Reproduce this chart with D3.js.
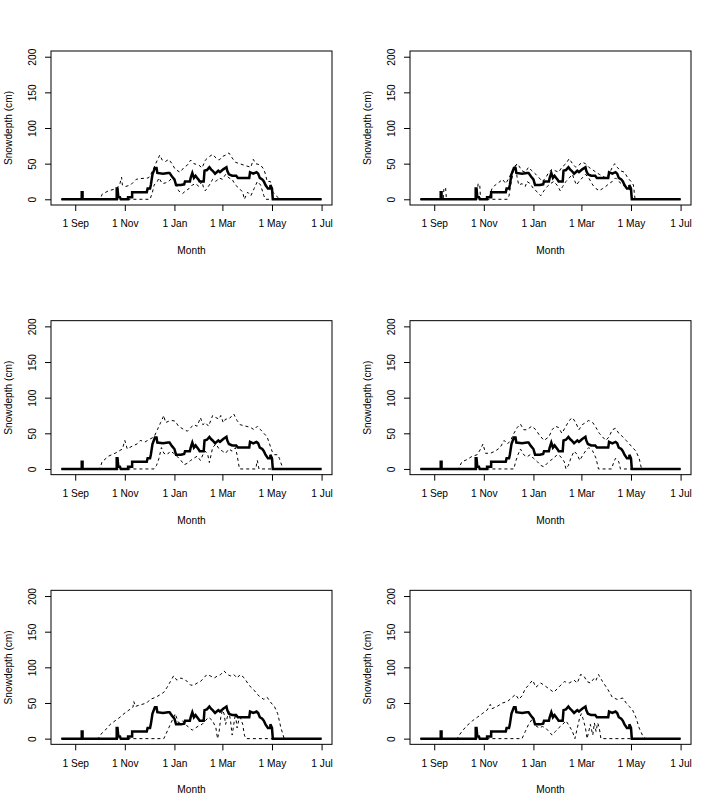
<!DOCTYPE html>
<html>
<head>
<meta charset="utf-8">
<script src="https://cdn.jsdelivr.net/npm/d3@7"></script>
<style>
body { margin: 0; background: #fff; }
text { font-family: "Liberation Sans", Arial, sans-serif; font-size: 10.2px; fill: #000; }
</style>
</head>
<body>
<div id="chart"></div>
<script>
// day offsets are days after 1 Sep, values are snow depth in cm
var observed = [[-17,0],[8,0],[8,10],[9,10],[9,0],[51,0],[51,15],[52,15],[53,3],[55,3],[56,0],[65,0],[65,3],[70,3],[70,10],[88,10],[89,15],[92,15],[93,20],[95,35],[98,44],[100,44],[101,37],[108,36],[114,37],[116,37],[119,32],[122,28],[124,20],[130,20],[134,21],[135,25],[141,25],[142,30],[144,37],[146,30],[148,33],[150,30],[152,27],[153,25],[158,25],[159,40],[162,41],[165,45],[167,42],[169,40],[172,36],[174,38],[176,40],[178,38],[180,40],[182,42],[186,45],[187,40],[189,35],[193,33],[198,33],[200,30],[214,30],[215,38],[219,36],[223,38],[225,36],[227,30],[230,28],[232,25],[234,20],[237,15],[240,15],[240,20],[242,15],[243,0],[303,0]];

var upper1 = [[-17,0],[31,0],[33,7],[41,12],[51,15],[55,22],[57,31],[58,20],[62,18],[68,20],[75,28],[80,29],[90,30],[93,35],[97,45],[101,55],[104,62],[107,55],[111,53],[115,56],[119,50],[123,42],[129,38],[134,45],[138,48],[142,55],[146,50],[152,48],[156,44],[160,55],[165,60],[169,63],[173,58],[177,55],[181,60],[185,62],[189,65],[193,58],[197,52],[202,50],[210,47],[216,45],[219,56],[222,50],[228,48],[232,42],[234,35],[236,25],[240,25],[243,10],[247,5],[252,0],[303,0]];
var lower1 = [[-17,0],[92,0],[95,10],[97,20],[101,25],[103,30],[107,22],[111,23],[115,25],[119,30],[123,25],[127,12],[132,8],[136,12],[140,15],[144,20],[148,22],[152,18],[156,25],[158,15],[160,12],[165,20],[169,28],[173,25],[177,30],[181,28],[185,35],[189,30],[193,28],[197,20],[202,15],[206,10],[208,0],[212,10],[216,5],[220,15],[224,25],[228,20],[232,5],[234,0],[303,0]];

var upper2 = [[-17,0],[11,0],[12,16],[14,16],[15,0],[52,0],[54,22],[56,20],[57,0],[67,0],[71,15],[75,20],[81,25],[84,28],[88,22],[92,30],[96,40],[99,45],[102,50],[104,47],[108,40],[112,38],[116,45],[120,40],[125,35],[129,30],[133,25],[137,30],[141,38],[145,42],[149,40],[153,38],[157,45],[162,50],[166,57],[170,50],[174,45],[178,48],[182,52],[186,50],[190,45],[194,42],[199,38],[203,35],[211,30],[215,35],[219,45],[222,50],[225,45],[229,40],[234,38],[238,30],[242,25],[245,20],[247,0],[303,0]];
var lower2 = [[-17,0],[90,0],[92,5],[94,20],[97,38],[100,48],[102,30],[104,20],[108,22],[112,18],[114,25],[118,22],[122,15],[127,10],[131,5],[135,12],[139,18],[143,22],[147,25],[151,20],[155,12],[158,18],[162,25],[166,30],[170,35],[172,28],[175,20],[178,25],[182,30],[186,35],[190,30],[195,20],[199,15],[203,12],[207,15],[211,18],[215,22],[219,25],[223,30],[227,25],[232,20],[236,18],[240,15],[242,10],[243,0],[303,0]];

var upper3 = [[-17,0],[29,0],[31,3],[33,10],[41,18],[49,22],[58,28],[61,40],[64,28],[70,32],[76,35],[80,40],[86,38],[92,42],[97,45],[101,55],[105,65],[109,75],[111,65],[115,67],[119,68],[123,67],[127,60],[134,55],[138,53],[142,58],[146,62],[150,60],[152,66],[154,72],[157,62],[160,65],[164,60],[169,75],[173,72],[177,70],[179,75],[182,65],[185,70],[189,70],[193,75],[195,77],[199,68],[203,62],[210,60],[216,58],[220,55],[224,60],[228,55],[232,50],[236,45],[239,35],[242,25],[245,20],[249,20],[251,15],[254,5],[256,0],[303,0]];
var lower3 = [[-17,0],[97,0],[100,5],[103,15],[106,30],[109,22],[113,20],[117,25],[121,22],[125,18],[130,12],[134,6],[138,8],[142,12],[146,15],[150,18],[154,12],[157,20],[160,25],[163,20],[165,9],[169,30],[173,35],[177,28],[181,25],[185,22],[189,28],[193,25],[197,30],[199,20],[202,0],[222,0],[224,12],[226,0],[303,0]];

var upper4 = [[-17,0],[29,0],[31,3],[34,10],[40,13],[47,18],[53,20],[57,28],[60,35],[63,22],[69,22],[75,25],[81,30],[86,40],[90,35],[94,40],[98,50],[102,58],[106,63],[110,55],[114,55],[120,60],[125,55],[129,48],[135,40],[141,45],[145,55],[149,60],[153,58],[157,50],[162,60],[166,68],[170,72],[174,65],[178,55],[182,62],[186,65],[190,68],[195,65],[199,58],[203,50],[207,45],[211,40],[215,45],[219,55],[223,57],[227,50],[232,45],[236,40],[240,35],[244,30],[248,25],[252,15],[255,0],[303,0]];
var lower4 = [[-17,0],[98,0],[100,10],[103,20],[106,28],[110,20],[114,17],[118,20],[122,15],[127,10],[131,5],[135,3],[139,8],[143,12],[147,15],[151,20],[155,18],[160,10],[162,0],[165,5],[168,15],[172,25],[176,20],[179,12],[182,18],[186,25],[190,30],[195,25],[199,15],[202,0],[218,0],[221,10],[223,15],[227,10],[229,0],[303,0]];

var upper5 = [[-17,0],[29,0],[29,2],[33,8],[37,12],[43,20],[49,25],[55,30],[60,35],[66,40],[71,44],[72,52],[74,45],[76,46],[82,48],[88,50],[92,55],[99,58],[105,62],[109,65],[113,72],[117,80],[121,88],[125,82],[130,85],[134,83],[138,80],[142,75],[146,75],[150,78],[154,80],[158,85],[162,90],[166,88],[171,85],[175,88],[179,90],[183,95],[187,90],[191,88],[195,90],[199,85],[203,90],[208,85],[212,78],[216,72],[220,68],[224,62],[228,58],[232,55],[236,58],[241,50],[245,45],[249,35],[253,15],[257,0],[303,0]];
var lower5 = [[-17,0],[109,0],[111,5],[115,15],[119,25],[123,35],[127,22],[132,25],[136,20],[140,15],[144,12],[148,15],[152,18],[156,20],[160,25],[164,30],[169,25],[173,15],[175,0],[177,10],[179,30],[181,40],[183,35],[185,20],[187,30],[189,38],[191,25],[193,5],[195,20],[197,35],[199,15],[201,25],[203,30],[206,20],[208,5],[210,0],[303,0]];

var upper6 = [[-17,0],[29,0],[29,2],[34,10],[40,18],[47,25],[53,30],[59,35],[65,40],[69,48],[71,42],[77,45],[84,50],[90,52],[96,58],[100,62],[104,55],[108,60],[112,70],[116,75],[121,82],[125,72],[131,78],[135,75],[141,70],[147,65],[153,72],[160,80],[166,78],[172,82],[176,78],[180,90],[184,88],[188,80],[192,78],[197,85],[199,82],[202,90],[207,80],[213,70],[219,58],[225,55],[232,57],[236,50],[240,45],[244,40],[248,30],[252,15],[256,5],[260,0],[303,0]];
var lower6 = [[-17,0],[108,0],[112,10],[116,20],[121,28],[125,18],[129,15],[133,17],[137,15],[141,10],[145,5],[149,10],[153,15],[158,20],[162,25],[166,18],[170,10],[173,0],[176,15],[179,30],[181,35],[183,28],[186,15],[188,0],[190,10],[192,20],[195,5],[197,22],[199,10],[201,22],[203,15],[205,0],[303,0]];

var yTicks = [0, 50, 100, 150, 200];
var xLabel = "Month";
var yLabel = "Snowdepth (cm)";

var panels = [
  {upper: upper1, lower: lower1},
  {upper: upper2, lower: lower2},
  {upper: upper3, lower: lower3},
  {upper: upper4, lower: lower4},
  {upper: upper5, lower: lower5},
  {upper: upper6, lower: lower6}
];

var W = 718, H = 809;
var cellW = W / 2, cellH = H / 3;
var margin = {top: 51, right: 27, bottom: cellH - 205, left: 51};
var w = cellW - margin.left - margin.right;
var h = cellH - margin.top - margin.bottom;

var base = Date.UTC(2001, 8, 1);
function toDate(d) { return new Date(base + d * 864e5); }

// R style 4% padding on both axes
var xs = -17, xe = 303, xp = (xe - xs) * 0.04;
var x = d3.scaleUtc().domain([toDate(xs - xp), toDate(xe + xp)]).range([0, w]);
var y = d3.scaleLinear().domain([-8, 208]).range([h, 0]);

var xTicks = d3.utcMonth.every(2).range(toDate(0), toDate(304));

var line = d3.line()
  .x(function(d) { return x(toDate(d[0])); })
  .y(function(d) { return y(d[1]); });

var svg = d3.select("#chart").append("svg").attr("width", W).attr("height", H);

panels.forEach(function(p, i) {
  var col = i % 2, row = Math.floor(i / 2);
  var g = svg.append("g")
    .attr("transform", "translate(" + (col * cellW + margin.left) + "," + (row * cellH + margin.top) + ")");

  var xa = g.append("g").attr("transform", "translate(0," + h + ")")
    .call(d3.axisBottom(x).tickValues(xTicks).tickFormat(d3.utcFormat("%-d %b")).tickSize(6).tickPadding(9));
  xa.select(".domain").remove();
  xa.selectAll("text").attr("font-size", null).attr("font-family", null);

  var ya = g.append("g")
    .call(d3.axisLeft(y).tickValues(yTicks).tickSize(6));
  ya.select(".domain").remove();
  ya.selectAll("text")
    .attr("font-size", null).attr("font-family", null)
    .attr("x", null).attr("dy", null)
    .attr("text-anchor", "middle")
    .attr("transform", "translate(-15.3,0) rotate(-90)");

  g.append("path").datum(p.lower).attr("d", line)
    .attr("fill", "none").attr("stroke", "#000").attr("stroke-width", 1).attr("stroke-dasharray", "3,3");
  g.append("path").datum(p.upper).attr("d", line)
    .attr("fill", "none").attr("stroke", "#000").attr("stroke-width", 1).attr("stroke-dasharray", "3,3");
  g.append("path").datum(observed).attr("d", line)
    .attr("fill", "none").attr("stroke", "#000").attr("stroke-width", 2.5);

  g.append("rect").attr("x", 0).attr("y", 0).attr("width", w).attr("height", h)
    .attr("fill", "none").attr("stroke", "#000").attr("stroke-width", 1);

  g.append("text").attr("x", w / 2).attr("y", h + 49).attr("text-anchor", "middle").text(xLabel);
  g.append("text").attr("transform", "translate(-39.5," + (h / 2) + ") rotate(-90)")
    .attr("text-anchor", "middle").text(yLabel);
});
</script>
</body>
</html>
